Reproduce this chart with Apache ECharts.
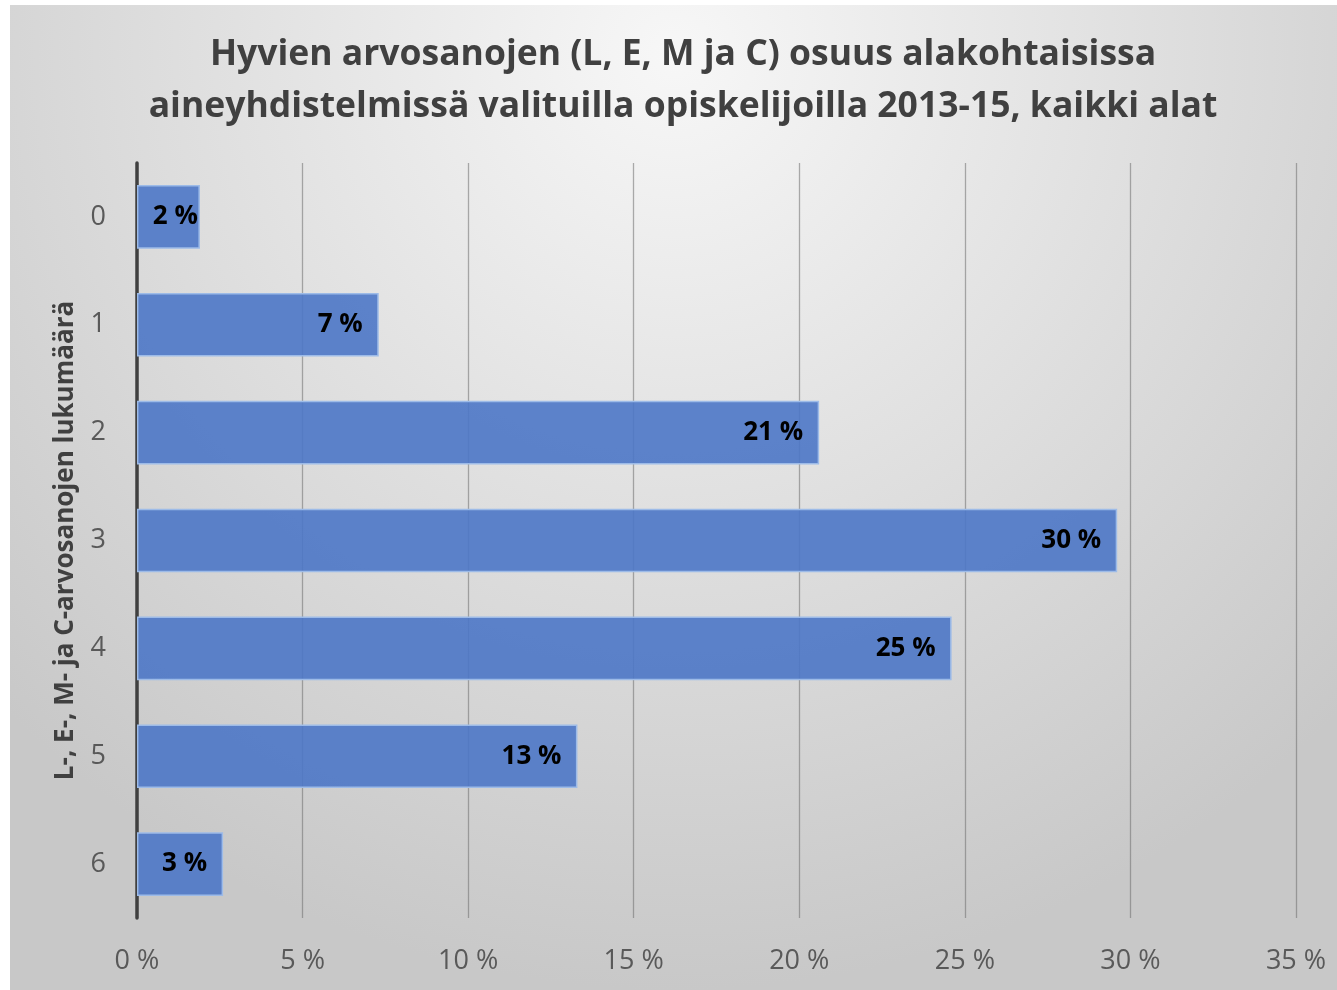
<!DOCTYPE html>
<html><head><meta charset="utf-8">
<script src="https://cdn.jsdelivr.net/npm/echarts@6/dist/echarts.min.js"></script>
<style>html,body{margin:0;padding:0;background:#fff}#c{width:1337px;height:990px}</style>
</head><body><div id="c"></div>
<script>
const categories = ['0', '1', '2', '3', '4', '5', '6'];
const shares = [1.9, 7.3, 20.6, 29.6, 24.6, 13.3, 2.6];
const shareLabels = ['2 %', '7 %', '21 %', '30 %', '25 %', '13 %', '3 %'];
const xTicks = [0, 5, 10, 15, 20, 25, 30, 35];
const titleText = 'Hyvien arvosanojen (L, E, M ja C) osuus alakohtaisissa\naineyhdistelmissä valituilla opiskelijoilla 2013-15, kaikki alat';
const yAxisName = 'L-, E-, M- ja C-arvosanojen lukumäärä';

const FONT = '"Open Sans", "DejaVu Sans", sans-serif';
const chart = echarts.init(document.getElementById('c'));
chart.setOption({
  animation: false,
  graphic: [{
    type: 'rect', z: -10, silent: true,
    shape: { x: 10, y: 5, width: 1327, height: 985 },
    style: { fill: { type: 'radial', x: 0.5, y: 0.05, r: 0.95,
      colorStops: [{ offset: 0, color: '#f7f7f7' }, { offset: 1, color: '#c8c8c8' }] } }
  }],
  title: {
    text: titleText, left: 678, top: 24, textAlign: 'center',
    textStyle: { fontFamily: FONT, fontWeight: 'bold', fontSize: 35.5, color: '#404040', lineHeight: 52 }
  },
  grid: { left: 137, right: 41, top: 163, bottom: 72, containLabel: false },
  xAxis: {
    type: 'value', min: xTicks[0], max: xTicks[xTicks.length - 1], interval: 5,
    axisLine: { show: false }, axisTick: { show: false },
    axisLabel: { formatter: v => v + ' %', fontFamily: FONT, fontSize: 27, color: '#595959', margin: 30 },
    splitLine: { lineStyle: { color: 'rgba(110,110,110,0.55)', width: 1.3 } }
  },
  yAxis: {
    type: 'category', data: categories, inverse: true,
    name: yAxisName, nameLocation: 'middle', nameGap: 58, nameRotate: 90,
    nameTextStyle: { fontFamily: FONT, fontWeight: 'bold', fontSize: 26, color: '#404040' },
    axisLine: { lineStyle: { color: '#404040', width: 3.5 } },
    axisTick: { show: false },
    axisLabel: { fontFamily: FONT, fontSize: 27, color: '#595959', margin: 31 }
  },
  series: [{
    type: 'bar', barWidth: '59%',
    data: shares.map((v, i) => i === 0 ? { value: v, label: { distance: 2 } } : v),
    itemStyle: { color: 'rgba(76,119,198,0.9)', borderColor: '#9dbbe8', borderWidth: 1.5 },
    label: {
      show: true, position: 'insideRight', distance: 16,
      formatter: p => shareLabels[p.dataIndex],
      fontFamily: FONT, fontWeight: 'bold', fontSize: 26, color: '#000'
    }
  }]
});
</script></body></html>
